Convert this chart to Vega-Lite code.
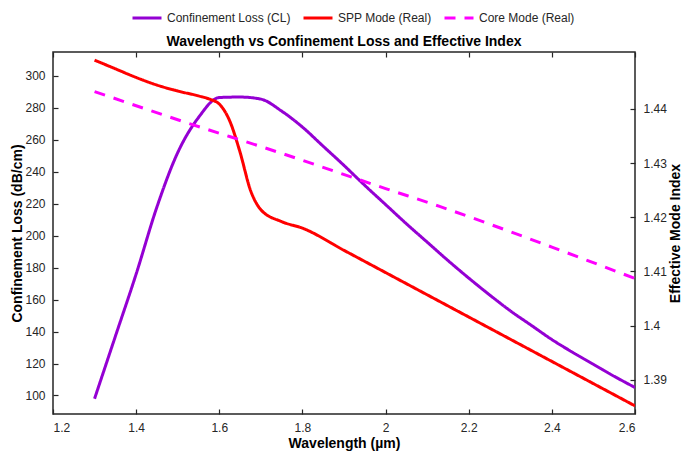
{
  "$schema": "https://vega.github.io/schema/vega-lite/v6.json",
  "autosize": "none",
  "width": 582,
  "height": 362,
  "padding": {"left": 53, "top": 52, "right": 50, "bottom": 41},
  "background": "white",
  "config": {
    "font": "Liberation Sans",
    "view": {"stroke": "#262626", "strokeWidth": 1.5},
    "axis": {
      "domain": false,
      "grid": false,
      "tickColor": "#262626",
      "tickSize": -5,
      "tickWidth": 1.2,
      "labelPadding": 13,
      "labelFont": "Liberation Sans",
      "labelFontSize": 12,
      "labelColor": "#262626",
      "titleFont": "Liberation Sans",
      "titleFontSize": 14,
      "titleFontWeight": "bold",
      "titleColor": "#000000"
    },
    "title": {"font": "Liberation Sans", "fontSize": 14, "fontWeight": "bold", "color": "#000000", "offset": 6}
  },
  "title": {"text": "Wavelength vs Confinement Loss and Effective Index", "anchor": "middle", "dy": 53},
  "datasets": {
    "cl": [
      {"wl": 1.30, "v": 98, "series": "Confinement Loss (CL)"},
      {"wl": 1.35, "v": 137, "series": "Confinement Loss (CL)"},
      {"wl": 1.40, "v": 176, "series": "Confinement Loss (CL)"},
      {"wl": 1.45, "v": 218, "series": "Confinement Loss (CL)"},
      {"wl": 1.50, "v": 252, "series": "Confinement Loss (CL)"},
      {"wl": 1.55, "v": 274, "series": "Confinement Loss (CL)"},
      {"wl": 1.60, "v": 286.5, "series": "Confinement Loss (CL)"},
      {"wl": 1.65, "v": 286.8, "series": "Confinement Loss (CL)"},
      {"wl": 1.70, "v": 285.5, "series": "Confinement Loss (CL)"},
      {"wl": 1.75, "v": 278, "series": "Confinement Loss (CL)"},
      {"wl": 1.80, "v": 268, "series": "Confinement Loss (CL)"},
      {"wl": 1.85, "v": 256, "series": "Confinement Loss (CL)"},
      {"wl": 1.90, "v": 244, "series": "Confinement Loss (CL)"},
      {"wl": 1.95, "v": 231.5, "series": "Confinement Loss (CL)"},
      {"wl": 2.00, "v": 219.5, "series": "Confinement Loss (CL)"},
      {"wl": 2.05, "v": 207.5, "series": "Confinement Loss (CL)"},
      {"wl": 2.10, "v": 196, "series": "Confinement Loss (CL)"},
      {"wl": 2.15, "v": 184.5, "series": "Confinement Loss (CL)"},
      {"wl": 2.20, "v": 173.5, "series": "Confinement Loss (CL)"},
      {"wl": 2.25, "v": 163, "series": "Confinement Loss (CL)"},
      {"wl": 2.30, "v": 153, "series": "Confinement Loss (CL)"},
      {"wl": 2.35, "v": 144, "series": "Confinement Loss (CL)"},
      {"wl": 2.40, "v": 135, "series": "Confinement Loss (CL)"},
      {"wl": 2.45, "v": 127, "series": "Confinement Loss (CL)"},
      {"wl": 2.50, "v": 119.5, "series": "Confinement Loss (CL)"},
      {"wl": 2.55, "v": 112, "series": "Confinement Loss (CL)"},
      {"wl": 2.60, "v": 105, "series": "Confinement Loss (CL)"}
    ],
    "idx": [
      {"wl": 1.30, "n": 1.4490, "series": "SPP Mode (Real)"},
      {"wl": 1.35, "n": 1.4474, "series": "SPP Mode (Real)"},
      {"wl": 1.40, "n": 1.4458, "series": "SPP Mode (Real)"},
      {"wl": 1.45, "n": 1.4444, "series": "SPP Mode (Real)"},
      {"wl": 1.50, "n": 1.4433, "series": "SPP Mode (Real)"},
      {"wl": 1.55, "n": 1.4424, "series": "SPP Mode (Real)"},
      {"wl": 1.58, "n": 1.4417, "series": "SPP Mode (Real)"},
      {"wl": 1.60, "n": 1.4409, "series": "SPP Mode (Real)"},
      {"wl": 1.625, "n": 1.4378, "series": "SPP Mode (Real)"},
      {"wl": 1.65, "n": 1.4320, "series": "SPP Mode (Real)"},
      {"wl": 1.675, "n": 1.4250, "series": "SPP Mode (Real)"},
      {"wl": 1.70, "n": 1.4214, "series": "SPP Mode (Real)"},
      {"wl": 1.75, "n": 1.4192, "series": "SPP Mode (Real)"},
      {"wl": 1.80, "n": 1.4180, "series": "SPP Mode (Real)"},
      {"wl": 1.90, "n": 1.4139, "series": "SPP Mode (Real)"},
      {"wl": 2.00, "n": 1.4098, "series": "SPP Mode (Real)"},
      {"wl": 2.10, "n": 1.4057, "series": "SPP Mode (Real)"},
      {"wl": 2.20, "n": 1.4016, "series": "SPP Mode (Real)"},
      {"wl": 2.30, "n": 1.3975, "series": "SPP Mode (Real)"},
      {"wl": 2.40, "n": 1.3934, "series": "SPP Mode (Real)"},
      {"wl": 2.50, "n": 1.3893, "series": "SPP Mode (Real)"},
      {"wl": 2.60, "n": 1.3852, "series": "SPP Mode (Real)"},
      {"wl": 1.30, "n": 1.4432, "series": "Core Mode (Real)"},
      {"wl": 1.50, "n": 1.4380, "series": "Core Mode (Real)"},
      {"wl": 1.75, "n": 1.4318, "series": "Core Mode (Real)"},
      {"wl": 2.00, "n": 1.4253, "series": "Core Mode (Real)"},
      {"wl": 2.13, "n": 1.4220, "series": "Core Mode (Real)"},
      {"wl": 2.40, "n": 1.4145, "series": "Core Mode (Real)"},
      {"wl": 2.60, "n": 1.4087, "series": "Core Mode (Real)"}
    ]
  },
  "layer": [
    {
      "data": {"name": "cl"},
      "mark": {"type": "line", "strokeWidth": 3, "interpolate": "monotone", "clip": true},
      "encoding": {
        "x": {"field": "wl", "type": "quantitative",
              "scale": {"domain": [1.2, 2.6], "nice": false, "zero": false},
              "axis": {"orient": "bottom", "title": "Wavelength (µm)", "values": [1.2, 1.4, 1.6, 1.8, 2.0, 2.2, 2.4, 2.6], "format": "~g", "titlePadding": 3}},
        "y": {"field": "v", "type": "quantitative",
              "scale": {"domain": [88.4, 315], "nice": false, "zero": false},
              "axis": {"orient": "left", "title": "Confinement Loss (dB/cm)", "values": [100, 120, 140, 160, 180, 200, 220, 240, 260, 280, 300], "titlePadding": 0}},
        "color": {"field": "series", "type": "nominal",
                  "scale": {"domain": ["Confinement Loss (CL)", "SPP Mode (Real)", "Core Mode (Real)"], "range": ["#9400D3", "#FF0000", "#FF00FF"]},
                  "legend": {"title": null, "orient": "none", "legendX": 78, "legendY": -50, "direction": "horizontal",
                             "symbolType": "stroke", "symbolSize": 841, "symbolStrokeWidth": 3, "labelFontSize": 12,
                             "labelFont": "Liberation Sans", "labelColor": "#262626", "labelOffset": 4, "columnPadding": 6, "padding": 0}},
        "strokeDash": {"field": "series", "type": "nominal",
                       "scale": {"domain": ["Confinement Loss (CL)", "SPP Mode (Real)", "Core Mode (Real)"], "range": [[1, 0], [1, 0], [11, 9]]},
                       "legend": {"title": null, "orient": "none", "legendX": 78, "legendY": -50, "direction": "horizontal",
                             "symbolType": "stroke", "symbolSize": 841, "symbolStrokeWidth": 3, "labelFontSize": 12,
                             "labelFont": "Liberation Sans", "labelColor": "#262626", "labelOffset": 4, "columnPadding": 6, "padding": 0}}
      }
    },
    {
      "data": {"name": "idx"},
      "mark": {"type": "line", "strokeWidth": 3, "interpolate": "monotone", "clip": true},
      "encoding": {
        "x": {"field": "wl", "type": "quantitative",
              "scale": {"domain": [1.2, 2.6], "nice": false, "zero": false},
              "axis": {"orient": "top", "title": null, "labels": false, "values": [1.2, 1.4, 1.6, 1.8, 2.0, 2.2, 2.4, 2.6]}},
        "y": {"field": "n", "type": "quantitative",
              "scale": {"domain": [1.3837, 1.4505], "nice": false, "zero": false},
              "axis": {"orient": "right", "title": "Effective Mode Index", "titleAngle": 270, "values": [1.39, 1.40, 1.41, 1.42, 1.43, 1.44], "format": "~g", "titlePadding": 16}},
        "color": {"field": "series", "type": "nominal"},
        "strokeDash": {"field": "series", "type": "nominal"}
      }
    }
  ],
  "resolve": {"scale": {"y": "independent"}, "axis": {"x": "independent", "y": "independent"}}
}
